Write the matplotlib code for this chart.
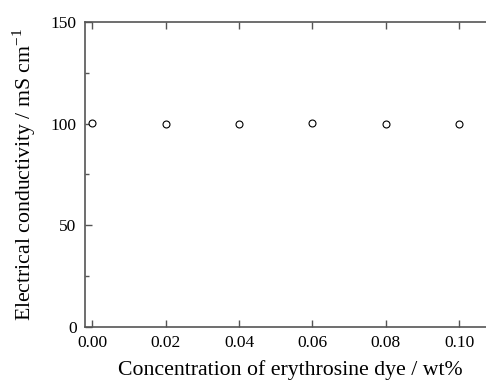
import matplotlib as mpl
mpl.use('Agg')
import matplotlib.pyplot as plt
from matplotlib.ticker import MultipleLocator

# data
conc = [0.00, 0.02, 0.04, 0.06, 0.08, 0.10]
cond = [100.2, 99.6, 100.0, 100.5, 100.0, 100.0]

plt.rcParams['font.family'] = 'Liberation Serif'
plt.rcParams['mathtext.fontset'] = 'custom'
plt.rcParams['mathtext.rm'] = 'Liberation Serif'

fig = plt.figure(figsize=(4.86, 3.83), dpi=100)
ax = fig.add_axes([85/486, (383-327)/383, (486-85)/486, (327-22)/383])

ax.plot(conc, cond, linestyle='none', marker='o', markersize=5,
        markerfacecolor='white', markeredgecolor='black', markeredgewidth=0.8)

ax.set_xlim(-0.002, 0.1073)
ax.set_ylim(0, 150)
ax.set_xticks(conc)
ax.set_xticklabels(['%.2f' % c for c in conc])
ax.yaxis.set_major_locator(MultipleLocator(50))
ax.yaxis.set_minor_locator(MultipleLocator(25))

for s in ['left', 'bottom', 'top']:
    ax.spines[s].set_color('#555555')
    ax.spines[s].set_linewidth(1.2)
ax.spines['right'].set_visible(False)

ax.tick_params(which='both', direction='in', top=True, right=False,
               colors='#555555', labelcolor='black', labelsize=12.5)
ax.tick_params(which='major', length=5, width=1)
ax.tick_params(which='minor', length=3, width=1)
ax.tick_params(axis='x', pad=6)
ax.tick_params(axis='y', pad=6)

ax.set_xlabel('Concentration of erythrosine dye / wt%', fontsize=15.7, labelpad=6)
ax.xaxis.label.set_x(0.513)
ax.set_ylabel('Electrical conductivity / mS cm$^{-1}$', fontsize=15.7, labelpad=9)

fig.savefig('out.png', dpi=100)
